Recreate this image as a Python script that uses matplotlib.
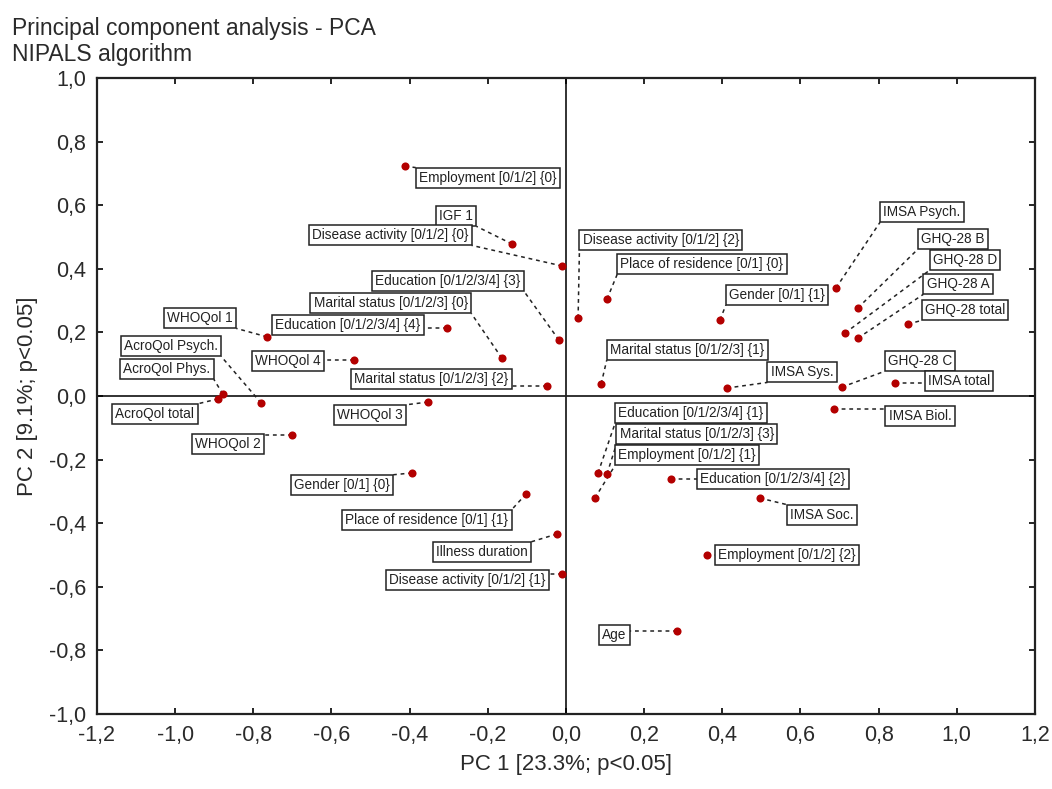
import numpy as np
import matplotlib
matplotlib.use("Agg")
import matplotlib.pyplot as plt
from matplotlib.ticker import FuncFormatter, MultipleLocator

plt.rcParams['font.family'] = ['Liberation Sans', 'DejaVu Sans']

# variable names and loadings (PC1, PC2)
names = [
    "Employment [0/1/2] {0}", "IGF 1", "Disease activity [0/1/2] {0}",
    "Education [0/1/2/3/4] {3}", "Marital status [0/1/2/3] {0}",
    "Education [0/1/2/3/4] {4}", "WHOQol 1", "WHOQol 4",
    "Marital status [0/1/2/3] {2}", "AcroQol Psych.", "AcroQol Phys.",
    "AcroQol total", "WHOQol 3", "WHOQol 2", "Gender [0/1] {0}",
    "Place of residence [0/1] {1}", "Illness duration",
    "Disease activity [0/1/2] {1}", "Disease activity [0/1/2] {2}",
    "Place of residence [0/1] {0}", "Gender [0/1] {1}", "IMSA Psych.",
    "GHQ-28 B", "GHQ-28 D", "GHQ-28 A", "GHQ-28 total",
    "Marital status [0/1/2/3] {1}", "IMSA Sys.", "GHQ-28 C", "IMSA total",
    "IMSA Biol.", "Education [0/1/2/3/4] {1}", "Marital status [0/1/2/3] {3}",
    "Employment [0/1/2] {1}", "Education [0/1/2/3/4] {2}", "IMSA Soc.",
    "Employment [0/1/2] {2}", "Age",
]
pc1 = [-0.412, -0.138, -0.010, -0.018, -0.164, -0.305, -0.765, -0.542,
       -0.049, -0.780, -0.878, -0.890, -0.353, -0.701, -0.394, -0.102,
       -0.023, -0.010, 0.031, 0.105, 0.394, 0.691, 0.747, 0.714, 0.747,
       0.875, 0.090, 0.412, 0.706, 0.842, 0.686, 0.082, 0.105, 0.074,
       0.269, 0.496, 0.361, 0.283]
pc2 = [0.723, 0.478, 0.409, 0.176, 0.119, 0.214, 0.186, 0.113, 0.031,
       -0.022, 0.006, -0.009, -0.019, -0.123, -0.242, -0.308, -0.434,
       -0.560, 0.245, 0.305, 0.239, 0.340, 0.277, 0.198, 0.182, 0.226,
       0.038, 0.025, 0.028, 0.041, -0.041, -0.242, -0.245, -0.321,
       -0.261, -0.321, -0.500, -0.739]

# where each label box sits (centre, data units)
label_x = [-0.200, -0.281, -0.450, -0.302, -0.448, -0.558, -0.936, -0.711,
           -0.345, -1.011, -1.021, -1.052, -0.502, -0.865, -0.573, -0.356,
           -0.215, -0.253, 0.243, 0.348, 0.540, 0.911, 0.990, 1.021, 1.003,
           1.021, 0.310, 0.604, 0.906, 1.006, 0.906, 0.320, 0.335, 0.310,
           0.530, 0.655, 0.565, 0.123]
label_y = [0.686, 0.566, 0.506, 0.362, 0.292, 0.223, 0.245, 0.110, 0.053,
           0.157, 0.085, -0.057, -0.060, -0.151, -0.280, -0.390, -0.491,
           -0.579, 0.491, 0.415, 0.318, 0.579, 0.494, 0.428, 0.352, 0.270,
           0.145, 0.075, 0.110, 0.047, -0.063, -0.053, -0.119, -0.186,
           -0.261, -0.374, -0.500, -0.752]

fig = plt.figure(figsize=(10.52, 7.89), dpi=100)
ax = fig.add_axes([0.0922, 0.0951, 0.8916, 0.806])

ax.set_xlim(-1.2, 1.2)
ax.set_ylim(-1.0, 1.0)
ax.axhline(0, color='#222222', lw=1.3, zorder=1)
ax.axvline(0, color='#222222', lw=1.3, zorder=1)

comma = FuncFormatter(lambda v, p: f"{v:.1f}".replace('.', ',').replace('-0,0', '0,0'))
ax.xaxis.set_major_locator(MultipleLocator(0.2))
ax.yaxis.set_major_locator(MultipleLocator(0.2))
ax.xaxis.set_major_formatter(comma)
ax.yaxis.set_major_formatter(comma)
ax.tick_params(direction='in', length=4, width=1.2, top=True, right=True,
               labelsize=15.5, labelcolor='#2a2a2a', pad=8)
for s in ax.spines.values():
    s.set_linewidth(1.6)
    s.set_color('#222222')

ax.set_xlabel("PC 1 [23.3%; p<0.05]", fontsize=16, color='#2a2a2a', labelpad=6)
ax.set_ylabel("PC 2 [9.1%; p<0.05]", fontsize=16, color='#2a2a2a', labelpad=8)
fig.text(0.011, 0.978, "Principal component analysis - PCA\nNIPALS algorithm",
         fontsize=16.5, color='#2a2a2a', va='top', ha='left', linespacing=1.12)

ax.scatter(pc1, pc2, s=34, color='#b30000', zorder=4, linewidths=0)

texts = []
for n, lx, ly in zip(names, label_x, label_y):
    t = ax.text(lx, ly, n, fontsize=9.8, ha='center', va='center',
                color='#222222', zorder=3,
                bbox=dict(boxstyle='square,pad=0.24', fc='white',
                          ec='#222222', lw=1.1))
    texts.append(t)

# dashed leader from each point to the nearest spot on its label box
fig.canvas.draw()
inv = ax.transData.inverted()
for t, px, py in zip(texts, pc1, pc2):
    bb = t.get_bbox_patch().get_window_extent()
    dx, dy = ax.transData.transform((px, py))
    cx = min(max(dx, bb.x0), bb.x1)
    cy = min(max(dy, bb.y0), bb.y1)
    ex, ey = inv.transform((cx, cy))
    ax.plot([px, ex], [py, ey], color='#222222', lw=1.1,
            linestyle=(0, (2.5, 2.5)), zorder=2)

fig.savefig("out.png", dpi=100)
